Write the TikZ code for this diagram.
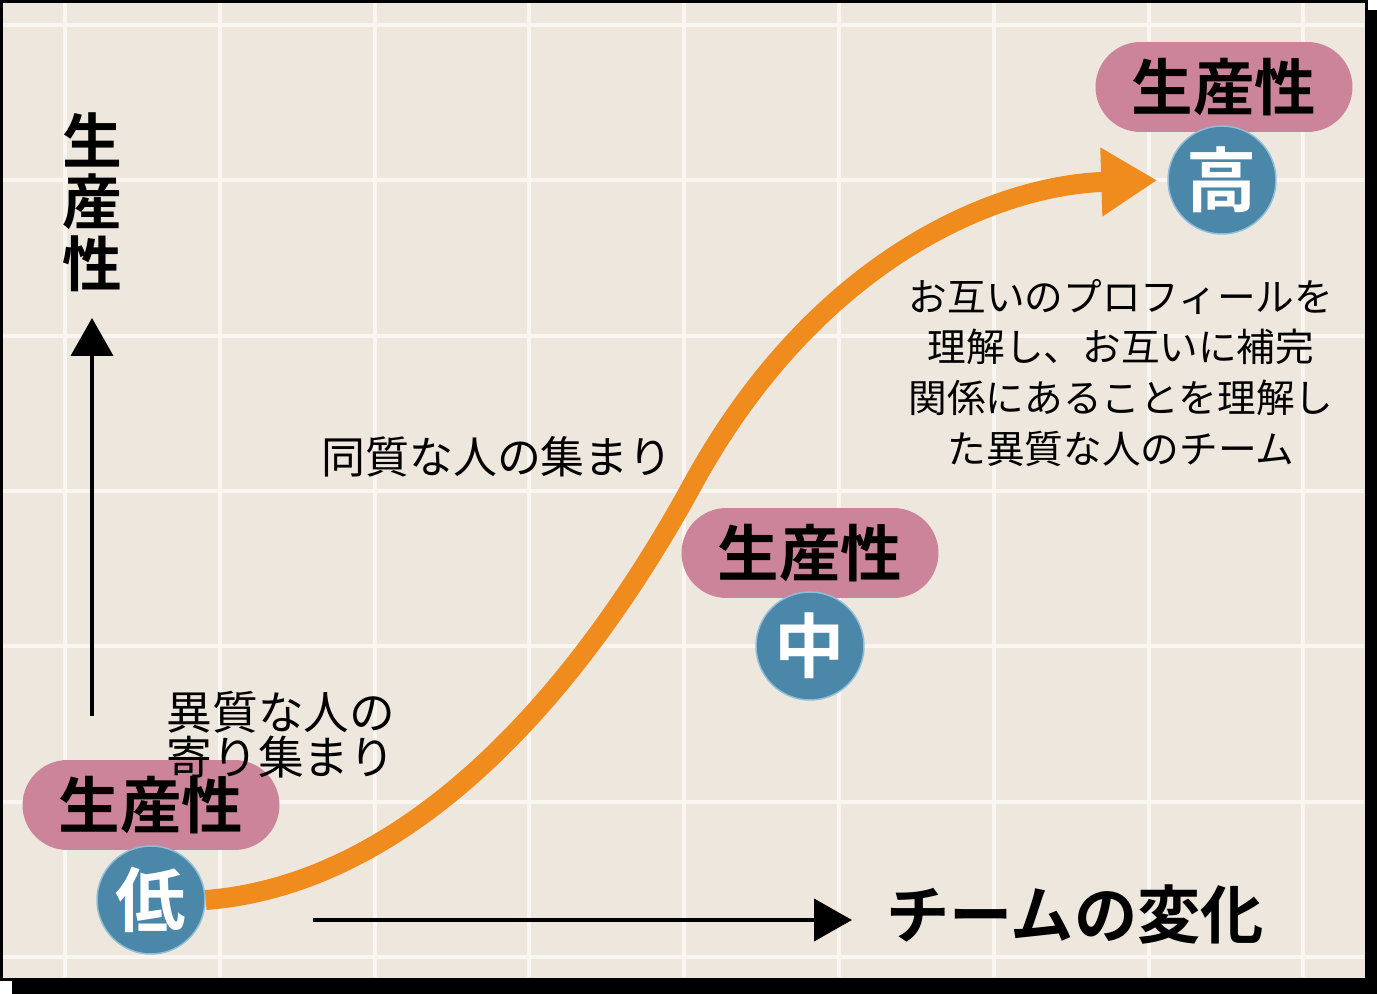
\documentclass[tikz,border=0pt]{standalone}
\usepackage{fontspec}
\newfontfamily\jpfont[BoldFont={Noto Sans CJK JP Bold}]{Noto Sans CJK JP}
\usepackage{tikz}
\usetikzlibrary{positioning,
				arrows.meta,
				calc}

\definecolor{paper}{HTML}{EEE7DE}
\definecolor{gridc}{HTML}{F9F6F1}
\definecolor{pillpink}{HTML}{CC849B}
\definecolor{discblue}{HTML}{4A87A9}
\definecolor{discedge}{HTML}{8FBFD6}
\definecolor{trendorange}{HTML}{F08C1E}

\tikzset{
	gridline/.style={draw=gridc, line width=0.08cm},
	axisarrow/.style={line width=0.08cm, -{Triangle[length=0.76cm, width=0.84cm]}},
	trend/.style={draw=trendorange, line width=0.4cm, shorten >=0.2cm,
		-{Triangle[length=1.12cm, width=1.3cm]}},
	pill/.style={fill=pillpink, rounded corners=0.9cm, minimum width=5.14cm,
		minimum height=1.8cm, inner sep=0pt,
		font=\jpfont\bfseries\fontsize{35}{35}\selectfont},
	level/.style={circle, fill=discblue, draw=discedge, line width=0.03cm,
		minimum size=2.16cm, inner sep=0pt, text=white,
		font=\jpfont\bfseries\fontsize{40}{40}\selectfont},
	note/.style={inner sep=0pt, align=center}
}

\begin{document}
\begin{tikzpicture}[x=0.02cm, y=-0.02cm]
	\useasboundingbox (0,0) rectangle (1377,994);
	% frame with shadow
	\fill[black] (12,10) rectangle (1377,994);
	\filldraw[fill=paper, draw=black, line width=0.06cm] (1.5,1.5) rectangle (1366,979);

	\foreach \gx in {0,...,8}
		\draw[gridline] ({65+154.8*\gx},3) -- ({65+154.8*\gx},977);
	\foreach \gy in {0,...,6}
		\draw[gridline] (3,{25+155.3*\gy}) -- (1364,{25+155.3*\gy});

	% axes
	\coordinate (ybase) at (92,716);
	\coordinate (ytip) at (92,318);
	\coordinate (xbase) at (313,920);
	\coordinate (xtip) at (852,920);
	\draw[axisarrow] (ybase) -- (ytip);
	\draw[axisarrow] (xbase) -- (xtip);
	\node[note, font=\jpfont\bfseries\fontsize{34}{35}\selectfont] (ylabel) at (92,202) {生\\産\\性};
	\node[note, font=\jpfont\bfseries\fontsize{36}{36}\selectfont] (xlabel) at (1075,915) {チームの変化};

	% levels
	\node[pill] (lopill) at (151,805) {生産性};
	\node[pill] (midpill) at (810,553) {生産性};
	\node[pill] (hipill) at (1224,87) {生産性};
	\node[level] (lo) at (151,900) {低};
	\node[level] (mid) at (810,646) {中};
	\node[level] (hi) at (1222,180) {高};

	\draw[trend] (lo.east) .. controls (400,885) and (570,710) .. (695,480)
		.. controls (820,255) and (1000,185) .. (hi.west);

	\node[note, font=\jpfont\fontsize{26}{25.5}\selectfont] (mixed) at (281,735) {異質な人の\\寄り集まり};
	\node[note, font=\jpfont\fontsize{25}{25}\selectfont] (alike) at (497,457) {同質な人の集まり};
	\node[note, font=\jpfont\fontsize{22}{29}\selectfont] (team) at (1121,373)
		{お互いのプロフィールを\\理解し、お互いに補完\\関係にあることを理解し\\た異質な人のチーム};
\end{tikzpicture}
\end{document}
